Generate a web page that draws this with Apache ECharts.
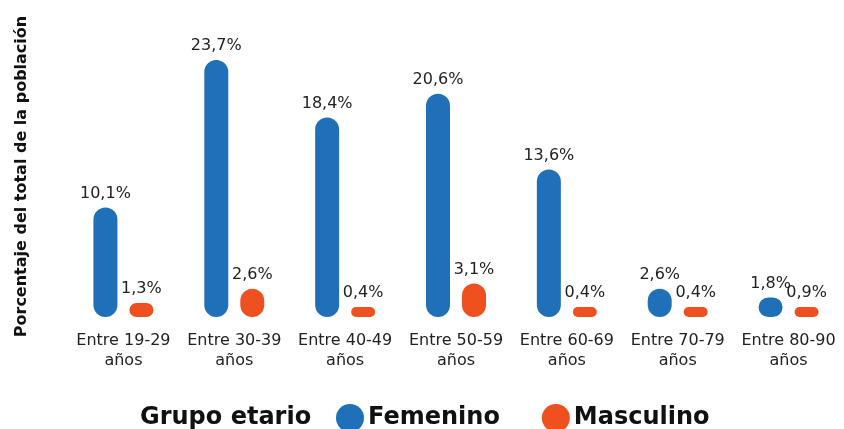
<!DOCTYPE html>
<html>
<head>
<meta charset="utf-8">
<script src="https://cdn.jsdelivr.net/npm/echarts@6/dist/echarts.min.js"></script>
<style>
  html, body { margin: 0; padding: 0; background: #ffffff; }
  #chart { width: 844px; height: 429px; }
</style>
</head>
<body>
<div id="chart"></div>
<script>
// Age groups on the category axis
const categories = [
  'Entre 19-29\naños', 'Entre 30-39\naños', 'Entre 40-49\naños', 'Entre 50-59\naños',
  'Entre 60-69\naños', 'Entre 70-79\naños', 'Entre 80-90\naños'
];
// Share of the total population, in percent
const femenino = [10.1, 23.7, 18.4, 20.6, 13.6, 2.6, 1.8];
const masculino = [1.3, 2.6, 0.4, 3.1, 0.4, 0.4, 0.9];
const seriesNames = ['Femenino', 'Masculino'];

const FONT = '"DejaVu Sans", Verdana, sans-serif';
const BLUE = '#1f70b9';
const ORANGE = '#ee501f';

const fmt = v => String(v).replace('.', ',') + '%';

const chart = echarts.init(document.getElementById('chart'), null, { renderer: 'canvas' });

function barSeries(name, data, color) {
  return {
    name: name,
    type: 'bar',
    data: data,
    barWidth: 24,
    barGap: '50%',
    barMinHeight: 10,
    itemStyle: { color: color, borderRadius: 12 },
    label: {
      show: true,
      position: 'top',
      distance: 6,
      formatter: p => fmt(p.value),
      color: '#222222',
      fontFamily: FONT,
      fontSize: 16
    }
  };
}

chart.setOption({
  animation: false,
  backgroundColor: '#ffffff',
  title: {
    text: 'Grupo etario',
    left: 140,
    top: 406,
    padding: 0,
    textStyle: { fontFamily: FONT, fontWeight: 'bold', fontSize: 24, color: '#111111' }
  },
  legend: {
    data: seriesNames,
    left: 336,
    top: 404,
    padding: 0,
    icon: 'circle',
    itemWidth: 28,
    itemHeight: 28,
    itemGap: 42,
    textStyle: { fontFamily: FONT, fontWeight: 'bold', fontSize: 24, color: '#111111', padding: [0, 0, 0, -1] }
  },
  grid: { left: 68, top: 46, width: 780, height: 271, containLabel: false },
  xAxis: {
    type: 'category',
    data: categories,
    axisLine: { show: false },
    axisTick: { show: false },
    axisLabel: {
      margin: 14,
      interval: 0,
      color: '#222222',
      fontFamily: FONT,
      fontSize: 16,
      lineHeight: 20
    }
  },
  yAxis: {
    type: 'value',
    min: 0,
    max: 25,
    axisLine: { show: false },
    axisTick: { show: false },
    axisLabel: { show: false },
    splitLine: { show: false },
    name: 'Porcentaje del total de la población',
    nameLocation: 'middle',
    nameRotate: 90,
    nameGap: 38,
    nameTextStyle: { fontFamily: FONT, fontWeight: 'bold', fontSize: 16, color: '#111111', padding: [0, 0, 0, 10] }
  },
  series: [
    barSeries(seriesNames[0], femenino, BLUE),
    barSeries(seriesNames[1], masculino, ORANGE)
  ]
});
</script>
</body>
</html>
